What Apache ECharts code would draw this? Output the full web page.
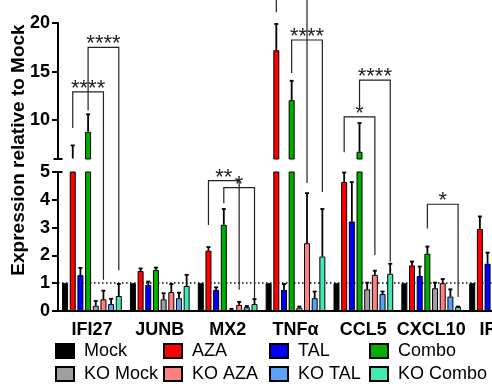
<!DOCTYPE html>
<html><head><meta charset="utf-8">
<script src="https://cdn.jsdelivr.net/npm/echarts@6/dist/echarts.min.js"></script>
<style>html,body{margin:0;padding:0;background:#fff}#c{width:492px;height:387px}</style>
</head><body><div id="c"></div>
<script>
// ---- data ----
var categories = ['IFI27', 'JUNB', 'MX2', 'TNFα', 'CCL5', 'CXCL10', 'IRF7'];
var seriesNames = ['Mock', 'AZA', 'TAL', 'Combo', 'KO Mock', 'KO AZA', 'KO TAL', 'KO Combo'];

var mock       = [1, 1, 1, 1, 1, 1, 1];
var mockErr    = [null, null, null, null, null, null, null];
var aza        = [6.05, 1.44, 2.17, 17.2, 4.64, 1.64, 2.95];
var azaErr     = [7.4, 1.53, 2.3, 19.9, 4.98, 1.78, 3.4];
var tal        = [1.29, 0.94, 0.76, 0.76, 3.22, 1.26, 1.7];
var talErr     = [1.55, 1.06, 0.85, 0.97, 4.64, 1.6, 2.1];
var combo      = [8.8, 1.48, 3.1, 12.06, 6.75, 2.06, 3.6];
var comboErr   = [10.6, 1.56, 3.67, 14.05, 9.7, 2.32, 4.0];
var koMock     = [0.19, 0.42, 0.05, 0.12, 0.78, 0.82, 0.9];
var koMockErr  = [0.36, 0.64, 0.08, 0.16, 1.02, 1.02, 1.1];
var koAza      = [0.42, 0.68, 0.22, 2.44, 1.3, 1.0, 1.5];
var koAzaErr   = [0.73, 0.97, 0.33, 4.24, 1.45, 1.15, 1.8];
var koTal      = [0.25, 0.46, 0.14, 0.46, 0.61, 0.52, 0.8];
var koTalErr   = [0.44, 0.66, 0.18, 0.7, 0.7, 0.78, 1.0];
var koCombo    = [0.54, 0.9, 0.25, 1.96, 1.34, 0.15, 1.2];
var koComboErr = [0.97, 1.3, 0.43, 3.67, 1.7, 0.16, 1.5];

var lowerTicks = [0, 1, 2, 3, 4, 5];
var upperTicks = [10, 15, 20];

// significance brackets: [category, left series, right series, top, left leg bottom, right leg bottom]
var brackets = [
  [0, 1, 5, 12.9, 9.2, 1.12],
  [0, 3, 7, 17.5, 11.0, 1.47],
  [2, 1, 5, 4.69, 3.09, 0.76],
  [2, 3, 7, 4.44, 3.88, 0.47],
  [3, 3, 7, 18.25, 14.85, 4.28],
  [3, 1, 5, 23.4, 21.1, 4.6],
  [4, 1, 5, 10.34, 6.7, 2.01],
  [4, 3, 7, 14.12, 11.44, 1.77],
  [5, 3, 7, 3.84, 2.97, 0.5]
];
var bracketLabels = ['****', '****', '**', '*', '****', '****', '*', '****', '*'];

// ---- styling ----
var seriesColors = ['#000000', '#ff0000', '#0000ff', '#00b000', '#a0a0a4', '#ff8080', '#5aa2f8', '#40eab2'];
var FONT = '"Liberation Sans", Arial, sans-serif';
var LOWER_MAX = 5, UPPER_MIN = 6;
var NB = 8, CAT_GAP = 0.12, BAR_GAP = 0.28;

var values = [mock, aza, tal, combo, koMock, koAza, koTal, koCombo];
var errs = [mockErr, azaErr, talErr, comboErr, koMockErr, koAzaErr, koTalErr, koComboErr];

var chart = echarts.init(document.getElementById('c'), null, {renderer: 'canvas'});

function barOffset(api, i) {
  var band = api.size([1, 0])[0];
  var total = band * (1 - CAT_GAP);
  var w = total / (NB + (NB - 1) * BAR_GAP);
  return -total / 2 + w / 2 + i * w * (1 + BAR_GAP);
}
function yPix(api, v) {
  if (v <= LOWER_MAX) return api.coord([0, v])[1];
  var up = chart.convertToPixel({yAxisIndex: 1}, Math.max(v, UPPER_MIN));
  if (v >= UPPER_MIN) return up;
  var lo = api.coord([0, LOWER_MAX])[1];
  return lo + (up - lo) * (v - LOWER_MAX) / (UPPER_MIN - LOWER_MAX);
}

var series = [];
[0, 1].forEach(function (g) {
  seriesNames.forEach(function (name, s) {
    series.push({
      type: 'bar', name: name, xAxisIndex: g, yAxisIndex: g,
      data: g === 0 ? values[s].slice() : values[s].map(function (v) { return v > UPPER_MIN ? v : '-'; }),
      itemStyle: {color: seriesColors[s], borderColor: '#000', borderWidth: 1},
      barGap: (BAR_GAP * 100) + '%', barCategoryGap: (CAT_GAP * 100) + '%',
      z: 2, silent: true,
      markLine: (g === 0 && s === 0) ? {
        z: 1, silent: true, symbol: 'none', label: {show: false},
        lineStyle: {type: [1.5, 2.5], color: '#000', width: 1.5},
        data: [{yAxis: 1}]
      } : undefined
    });
  });
});

// error bars
var errData = [];
values.forEach(function (arr, s) {
  arr.forEach(function (v, c) {
    if (errs[s][c] != null) errData.push([c, v, s, errs[s][c]]);
  });
});
series.push({
  type: 'custom', xAxisIndex: 0, yAxisIndex: 0, clip: false, z: 5, silent: true,
  encode: {x: 0, y: 1},
  data: errData,
  renderItem: function (params, api) {
    var x = api.coord([api.value(0), 0])[0] + barOffset(api, api.value(2));
    var y1 = yPix(api, api.value(1));
    var y2 = yPix(api, api.value(3));
    var st = {stroke: '#000', lineWidth: 1.8};
    return {type: 'group', children: [
      {type: 'line', shape: {x1: x, y1: y1, x2: x, y2: y2}, style: st},
      {type: 'line', shape: {x1: x - 2, y1: y2, x2: x + 2, y2: y2}, style: st}
    ]};
  }
});

// brackets
series.push({
  type: 'custom', xAxisIndex: 0, yAxisIndex: 0, clip: false, z: 6, silent: true,
  encode: {x: 0, y: 3},
  data: brackets,
  renderItem: function (params, api) {
    var cx = api.coord([api.value(0), 0])[0];
    var xL = cx + barOffset(api, api.value(1));
    var xR = cx + barOffset(api, api.value(2));
    var yT = yPix(api, api.value(3));
    var yLB = yPix(api, api.value(4));
    var yRB = yPix(api, api.value(5));
    return {type: 'group', children: [
      {type: 'polyline', shape: {points: [[xL, yLB], [xL, yT], [xR, yT], [xR, yRB]]},
       style: {stroke: '#222', lineWidth: 1.2, fill: null}},
      {type: 'text', x: (xL + xR) / 2, y: yT - 3,
       style: {text: bracketLabels[params.dataIndex], font: '22px ' + FONT, fill: '#222',
               align: 'center', verticalAlign: 'middle'}}
    ]};
  }
});

// axis break caps
[0, 1].forEach(function (g) {
  series.push({
    type: 'custom', xAxisIndex: g, yAxisIndex: g, clip: false, z: 7, silent: true,
    data: [[0, g === 0 ? LOWER_MAX : UPPER_MIN]],
    renderItem: function (params, api) {
      var cs = params.coordSys;
      var y = g === 0 ? cs.y : cs.y + cs.height;
      return {type: 'line', shape: {x1: cs.x - 4.5, y1: y, x2: cs.x + 4.5, y2: y},
              style: {stroke: '#000', lineWidth: 2}};
    }
  });
});

var axisLineStyle = {color: '#000', width: 2};
var labelStyle = {color: '#000', fontWeight: 'bold', fontSize: 18, fontFamily: FONT};

var legendCols = [55, 163, 269, 369];
var legends = legendCols.map(function (lx, col) {
  return {
    data: [seriesNames[col], seriesNames[col + 4]],
    orient: 'vertical', left: lx, top: 341, padding: 0, itemGap: 3,
    itemWidth: 18, itemHeight: 14, icon: 'rect', selectedMode: false,
    textStyle: {fontSize: 18, fontFamily: FONT, color: '#000', lineHeight: 20, padding: [0, 0, 0, 5]}
  };
});

chart.setOption({
  animation: false,
  backgroundColor: '#fff',
  grid: [
    {left: 58, top: 172, width: 475, height: 139, outerBoundsMode: 'none', containLabel: false},
    {left: 58, top: 23, width: 475, height: 136, outerBoundsMode: 'none', containLabel: false}
  ],
  xAxis: [
    {gridIndex: 0, type: 'category', data: categories,
     axisLine: {lineStyle: axisLineStyle},
     axisTick: {alignWithLabel: true, length: 5, lineStyle: axisLineStyle},
     axisLabel: Object.assign({interval: 0, margin: 10, hideOverlap: false}, labelStyle)},
    {gridIndex: 1, type: 'category', data: categories, show: false}
  ],
  yAxis: [
    {gridIndex: 0, type: 'value', min: lowerTicks[0], max: lowerTicks[lowerTicks.length - 1], interval: 1,
     axisLine: {show: true, lineStyle: axisLineStyle},
     axisTick: {show: true, length: 6, lineStyle: axisLineStyle},
     splitLine: {show: false},
     axisLabel: Object.assign({margin: 8}, labelStyle)},
    {gridIndex: 1, type: 'value', min: UPPER_MIN, max: upperTicks[upperTicks.length - 1],
     axisLine: {show: true, lineStyle: axisLineStyle},
     axisTick: {show: true, length: 6, lineStyle: axisLineStyle, customValues: upperTicks},
     splitLine: {show: false},
     axisLabel: Object.assign({margin: 8, customValues: upperTicks}, labelStyle)}
  ],
  legend: legends,
  graphic: [{
    type: 'text', x: 19, y: 150, rotation: Math.PI / 2,
    style: {text: 'Expression relative to Mock', font: 'bold 19px ' + FONT, fill: '#000',
            align: 'center', verticalAlign: 'middle'}
  }],
  series: series
});
</script></body></html>
